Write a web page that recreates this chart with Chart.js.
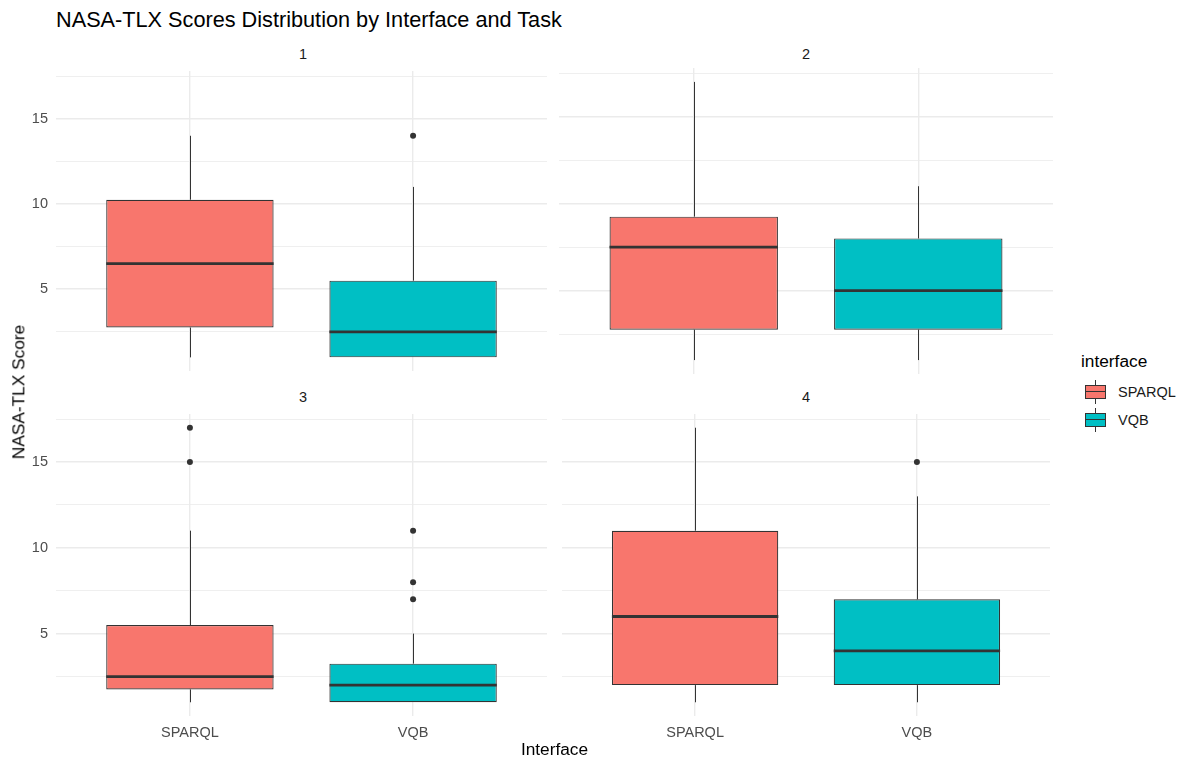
<!DOCTYPE html>
<html>
<head>
<meta charset="utf-8">
<title>NASA-TLX Scores Distribution by Interface and Task</title>
<script src="https://cdn.jsdelivr.net/npm/chart.js@4.4.0/dist/chart.umd.min.js"></script>
<style>
  body { margin: 0; background: #fff; font-family: "Liberation Sans", Arial, sans-serif; }
  #page { position: relative; width: 1185px; height: 764px; overflow: hidden; background: #fff; }
  .panel { position: absolute; }
  .txt { position: absolute; white-space: nowrap; line-height: 1; transform: translate(-50%, -50%); }
  .left { transform: translate(0, -50%); }
  .key { position: absolute; width: 28px; height: 28px; }
  .key .whisker { position: absolute; left: 13.5px; top: 2px; width: 1px; height: 24px; background: #333; }
  .key .box { position: absolute; left: 3.5px; top: 7px; width: 19px; height: 12px; border: 1px solid #333; }
  .key .mid { position: absolute; left: 0; right: 0; top: 5.5px; height: 1.3px; background: #333; }
</style>
</head>
<body>
<div id="page"></div>
<script>
const tasks = ['1', '2', '3', '4'];
const interfaces = ['SPARQL', 'VQB'];

// [lower whisker, Q1, median, Q3, upper whisker] for tasks 1..4
const sparqlBoxes = [
  [1, 2.75, 6.5, 10.25, 14],
  [1, 2.75, 7.5, 9.25, 17],
  [1, 1.75, 2.5, 5.5, 11],
  [1, 2, 6, 11, 17]
];
const vqbBoxes = [
  [1, 1, 2.5, 5.5, 11],
  [1, 2.75, 5, 8, 11],
  [1, 1, 2, 3.25, 5],
  [1, 2, 4, 7, 13]
];
const sparqlOutliers = [[], [], [15, 17], []];
const vqbOutliers = [[14], [], [7, 8, 11], [15]];

const yMajorTicks = [5, 10, 15];
const yMinorTicks = [2.5, 7.5, 12.5, 17.5];

const fills = ['#F8766D', '#00BFC4'];
const font = '"Liberation Sans", Arial, sans-serif';
const page = document.getElementById('page');

function label(text, x, y, size, color, cls) {
  const d = document.createElement('div');
  d.className = 'txt' + (cls ? ' ' + cls : '');
  d.textContent = text;
  d.style.left = x + 'px';
  d.style.top = y + 'px';
  d.style.fontSize = size + 'px';
  d.style.color = color;
  page.appendChild(d);
  return d;
}

// whiskers under the boxes, medians on top of them
const boxWhiskers = {
  id: 'boxWhiskers',
  beforeDatasetsDraw(chart, args, opts) {
    const ctx = chart.ctx;
    const y = chart.scales.y;
    const bars = chart.getDatasetMeta(0).data;
    ctx.save();
    ctx.strokeStyle = '#333333';
    ctx.lineWidth = 1;
    opts.stats.forEach((s, i) => {
      const x = Math.round(bars[i].x) + 0.5;
      ctx.beginPath();
      ctx.moveTo(x, y.getPixelForValue(s[4]));
      ctx.lineTo(x, y.getPixelForValue(s[3]));
      ctx.moveTo(x, y.getPixelForValue(s[1]));
      ctx.lineTo(x, y.getPixelForValue(s[0]));
      ctx.stroke();
    });
    ctx.restore();
  },
  afterDatasetsDraw(chart, args, opts) {
    const ctx = chart.ctx;
    const y = chart.scales.y;
    const bars = chart.getDatasetMeta(0).data;
    ctx.save();
    ctx.strokeStyle = '#333333';
    ctx.lineWidth = 2.8;
    opts.stats.forEach((s, i) => {
      const b = bars[i];
      const py = y.getPixelForValue(s[2]);
      ctx.beginPath();
      ctx.moveTo(b.x - b.width / 2, py);
      ctx.lineTo(b.x + b.width / 2, py);
      ctx.stroke();
    });
    ctx.restore();
  }
};

const panels = [
  { left: 0,   top: 68,  width: 550, height: 306, showY: true,  showX: false },
  { left: 559, top: 68,  width: 494, height: 306, showY: false, showX: false },
  { left: 0,   top: 411, width: 550, height: 335, showY: true,  showX: true },
  { left: 559, top: 411, width: 494, height: 335, showY: false, showX: true }
];

tasks.forEach((task, t) => {
  const p = panels[t];
  const canvas = document.createElement('canvas');
  canvas.className = 'panel';
  canvas.width = p.width;
  canvas.height = p.height;
  canvas.style.left = p.left + 'px';
  canvas.style.top = p.top + 'px';
  canvas.style.width = p.width + 'px';
  canvas.style.height = p.height + 'px';
  page.appendChild(canvas);

  const stats = [sparqlBoxes[t], vqbBoxes[t]];
  const outliers = [];
  sparqlOutliers[t].forEach(v => outliers.push({ x: 1, y: v }));
  vqbOutliers[t].forEach(v => outliers.push({ x: 2, y: v }));

  new Chart(canvas, {
    type: 'bar',
    data: {
      datasets: [{
        type: 'bar',
        data: stats.map((s, i) => ({ x: i + 1, y: [s[1], s[3]] })),
        backgroundColor: fills,
        borderColor: '#333333',
        borderWidth: 1.2,
        borderSkipped: false,
        inflateAmount: 0,
        categoryPercentage: 0.75,
        barPercentage: 1
      }, {
        type: 'scatter',
        data: outliers,
        pointRadius: 3,
        pointHoverRadius: 3,
        pointBackgroundColor: '#333333',
        pointBorderWidth: 0
      }]
    },
    options: {
      responsive: false,
      animation: false,
      events: [],
      layout: { padding: 0 },
      plugins: {
        legend: { display: false },
        tooltip: { enabled: false },
        boxWhiskers: { stats: stats }
      },
      scales: {
        x: {
          type: 'linear',
          min: 0.4,
          max: 2.6,
          offset: false,
          afterBuildTicks: s => { s.ticks = [1, 2].map(v => ({ value: v })); },
          afterFit: s => { s.height = p.showX ? 335 - 305 : 0; s.paddingLeft = 0; s.paddingRight = 0; },
          ticks: {
            display: p.showX,
            autoSkip: false,
            maxRotation: 0,
            padding: 8,
            color: '#4D4D4D',
            font: { family: font, size: 14.5 },
            callback: v => interfaces[v - 1]
          },
          grid: { color: '#EBEBEB', lineWidth: 1.4, drawTicks: false, offset: false },
          border: { display: false }
        },
        y: {
          type: 'linear',
          min: 0.2,
          max: 17.8,
          afterBuildTicks: s => {
            s.ticks = yMinorTicks.concat(yMajorTicks).sort((a, b) => a - b).map(v => ({ value: v }));
          },
          afterFit: s => { s.width = p.showY ? 56 : 0; s.paddingTop = 0; s.paddingBottom = 0; },
          ticks: {
            display: p.showY,
            autoSkip: false,
            padding: 8,
            color: '#4D4D4D',
            font: { family: font, size: 14.5 },
            callback: v => yMajorTicks.includes(v) ? String(v) : ''
          },
          grid: {
            color: '#EBEBEB',
            lineWidth: ctx => yMajorTicks.includes(ctx.tick.value) ? 1.4 : 0.8,
            drawTicks: false
          },
          border: { display: false }
        }
      }
    },
    plugins: [boxWhiskers]
  });

  // facet strip label
  const cx = p.showY ? (56 + p.width) / 2 : p.left + p.width / 2;
  label(task, cx, p.top - 14, 14.5, '#1A1A1A');
});

// titles
label('NASA-TLX Scores Distribution by Interface and Task', 56, 20, 21.7, '#000', 'left');
label('Interface', 554.5, 750, 17.3, '#000');
const yTitle = label('NASA-TLX Score', 19, 392, 17.3, '#000');
yTitle.style.transform = 'translate(-50%, -50%) rotate(-90deg)';

// legend
label('interface', 1081, 362, 17.3, '#000', 'left');
interfaces.forEach((name, i) => {
  const key = document.createElement('div');
  key.className = 'key';
  key.style.left = '1081px';
  key.style.top = (377.5 + i * 28) + 'px';
  key.innerHTML = '<div class="whisker"></div><div class="box" style="background:' + fills[i] +
    '"><div class="mid"></div></div>';
  page.appendChild(key);
  label(name, 1118, 392 + i * 28, 14.5, '#1A1A1A', 'left');
});
</script>
</body>
</html>
